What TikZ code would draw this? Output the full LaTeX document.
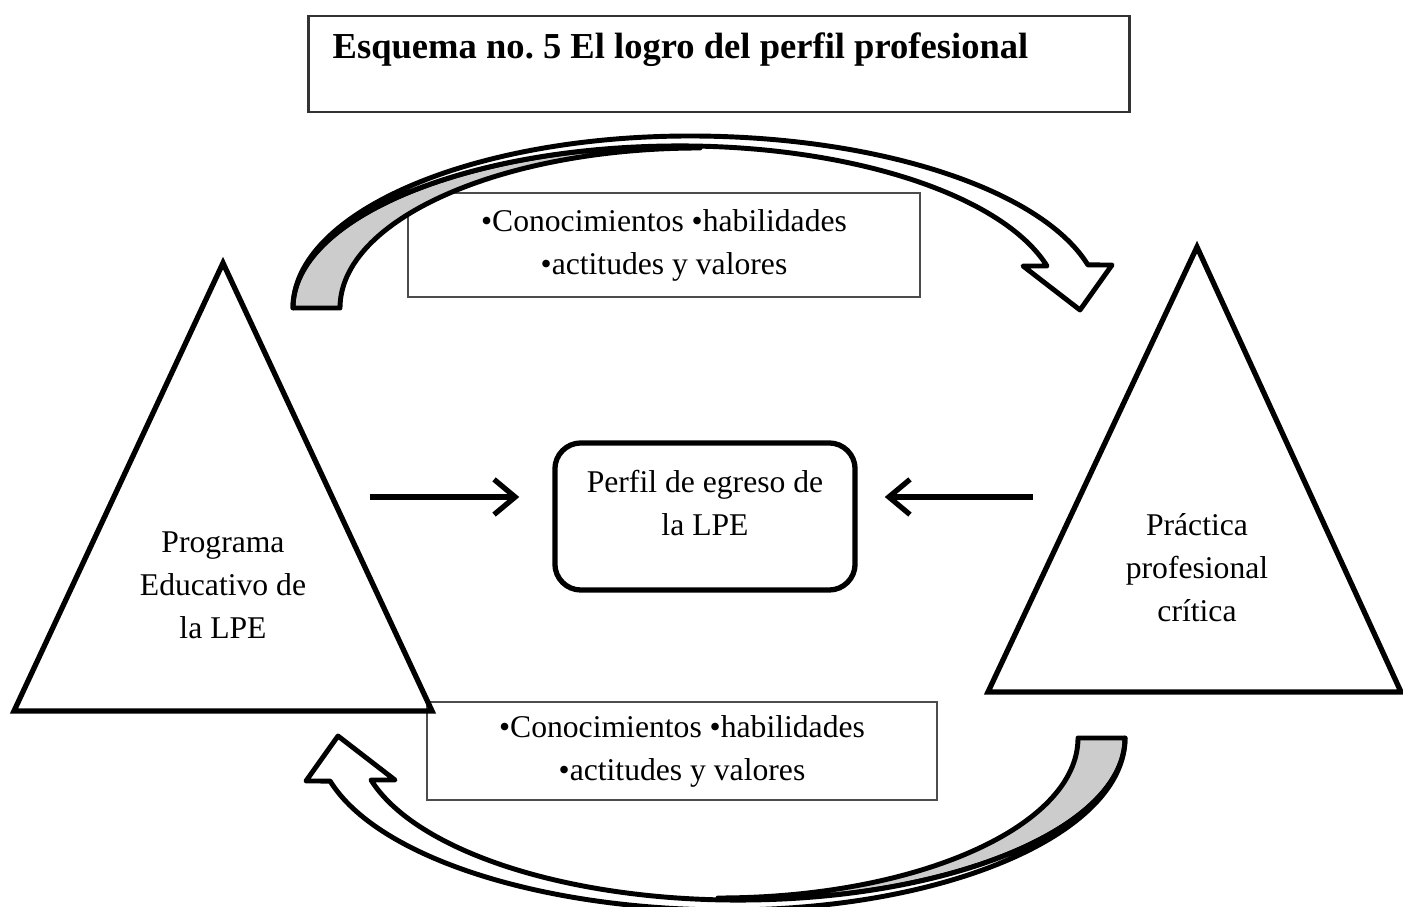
\documentclass[tikz,border=0pt]{standalone}
\usepackage{fontspec}
\setmainfont{Liberation Serif}
\usetikzlibrary{arrows.meta}

\begin{document}
\begin{tikzpicture}[x=0.01cm, y=-0.01cm, >={Straight Barb[length=6pt,width=10pt]},
  every node/.style={font=\fontsize{9}{12.2}\selectfont, align=center},
  titulo/.style={draw=black!80, line width=0.8pt, minimum width=8.2cm, minimum height=0.96cm},
  lista/.style={draw=black!70, line width=0.5pt, minimum height=1.04cm},
  perfilbox/.style={draw, line width=1.5pt, rounded corners=0.26cm, minimum width=3cm, minimum height=1.47cm},
  tri/.style={draw, line width=1.5pt},
  banda/.style={draw, line width=1.4pt, line join=round, fill=white},
  sombra/.style={banda, fill=black!20},
  flecha/.style={->, line width=1.5pt}]
\useasboundingbox (0,0) rectangle (1403,907);

% titulo
\node[titulo] (titulo) at (719,64) {};
\node[anchor=base west, inner sep=0pt, font=\fontsize{10.4}{13}\selectfont\bfseries] (titulotxt) at (332,59)
  {Esquema no.\ 5 El logro del perfil profesional};

% cuadros de la lista
\node[lista, minimum width=5.12cm] (lista-1) at (664,245)
  {\textbullet Conocimientos \textbullet habilidades\\\textbullet actitudes y valores};
\node[lista, minimum width=5.1cm, minimum height=0.98cm] (lista-2) at (682,751)
  {\textbullet Conocimientos \textbullet habilidades\\\textbullet actitudes y valores};

% flechas curvas (la de abajo es la de arriba girada)
\foreach \giro in {0,180}
{
  \begin{scope}[rotate around={\giro:(709,523)}]
    \draw[sombra] (293,308) arc[start angle=180, end angle=270, x radius=387, y radius=162]
      -- (700,148) arc[start angle=270, end angle=180, x radius=360, y radius=160] -- cycle;
    \draw[banda] (293,308) arc[start angle=180, end angle=270, x radius=397, y radius=172]
      arc[start angle=270, end angle=345.5, x radius=411, y radius=172]
      -- (1112,265) -- (1080,310) -- (1023,266) -- (1047,266)
      arc[start angle=345, end angle=270, x radius=380, y radius=162]
      arc[start angle=270, end angle=180, x radius=387, y radius=162] -- cycle;
  \end{scope}
}

% triangulos
\draw[tri] (223,263) -- (432,711) -- (14,711) -- cycle;
\node (programa) at (223,585) {Programa\\Educativo de\\la LPE};
\draw[tri] (1197,247) -- (1401,692) -- (988,692) -- cycle;
\node (practica) at (1197,568) {Práctica\\profesional\\crítica};

% perfil de egreso
\node[perfilbox] (perfil) at (705,516.5) {};
\node (perfiltxt) at (705,503) {Perfil de egreso de\\la LPE};

\coordinate (izq) at (370,497);
\coordinate (der) at (1033,497);
\draw[flecha, shorten >=0.33cm] (izq) -- (izq -| perfil.west);
\draw[flecha, shorten >=0.27cm] (der) -- (der -| perfil.east);

\end{tikzpicture}
\end{document}
